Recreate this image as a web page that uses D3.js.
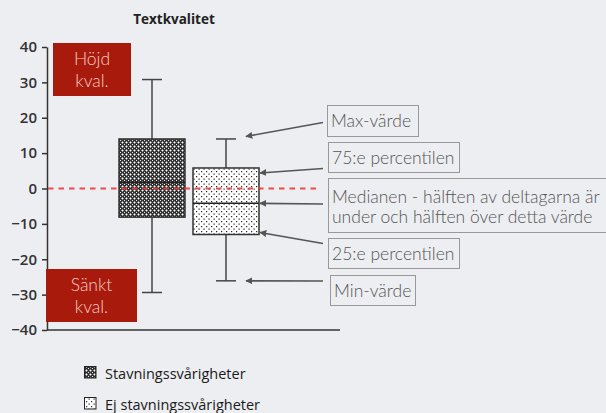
<!DOCTYPE html>
<html><head><meta charset="utf-8">
<script src="https://cdn.jsdelivr.net/npm/d3@7"></script>
<style>
html,body{margin:0;padding:0;background:#eceef1;}
svg{display:block;}
</style></head>
<body>
<svg id="c" width="606" height="413"></svg>
<script>
const groups = ["Stavningssvårigheter", "Ej stavningssvårigheter"];
const maxVals = [30.8, 14.0];
const q3Vals = [14.0, 5.8];
const medianVals = [1.8, -4.2];
const q1Vals = [-8.1, -13.0];
const minVals = [-29.4, -26.1];
const yTicks = [40, 30, 20, 10, 0, -10, -20, -30, -40];
const title = "Textkvalitet";
const annotations = ["Max-värde", "75:e percentilen", "Medianen - hälften av deltagarna är|under och hälften över detta värde", "25:e percentilen", "Min-värde"];

const svg = d3.select("#c");
const bg = "#eceef1";
svg.append("rect").attr("width",606).attr("height",413).attr("fill",bg);

const defs = svg.append("defs");
const pd = defs.append("pattern").attr("id","pDark").attr("patternUnits","userSpaceOnUse").attr("width",4).attr("height",4);
pd.append("rect").attr("width",4).attr("height",4).attr("fill","#333");
pd.append("rect").attr("x",0).attr("y",0).attr("width",1).attr("height",1).attr("fill","#f0f0f0");
pd.append("rect").attr("x",2).attr("y",2).attr("width",1).attr("height",1).attr("fill","#ffffff");
pd.append("rect").attr("x",1).attr("y",2).attr("width",1).attr("height",1).attr("fill","#999");
pd.append("rect").attr("x",3).attr("y",2).attr("width",1).attr("height",1).attr("fill","#999");
pd.append("rect").attr("x",2).attr("y",1).attr("width",1).attr("height",1).attr("fill","#999");
pd.append("rect").attr("x",2).attr("y",3).attr("width",1).attr("height",1).attr("fill","#999");
const pl = defs.append("pattern").attr("id","pLight").attr("patternUnits","userSpaceOnUse").attr("width",5).attr("height",5);
pl.append("rect").attr("width",5).attr("height",5).attr("fill","#ffffff");
pl.append("rect").attr("x",1).attr("y",1).attr("width",1.2).attr("height",1.2).attr("fill","#222");
pl.append("rect").attr("x",3.5).attr("y",3.5).attr("width",1.2).attr("height",1.2).attr("fill","#222");
defs.append("marker").attr("id","arr").attr("viewBox","0 0 10 10").attr("refX",9).attr("refY",5)
  .attr("markerWidth",7).attr("markerHeight",7).attr("markerUnits","userSpaceOnUse").attr("orient","auto")
  .append("path").attr("d","M0,0 L10,5 L0,10 z").attr("fill","#555");
const fills = ["url(#pDark)","url(#pLight)"];

const y = d3.scaleLinear().domain([-40,40]).range([330,47]);
const x = d3.scaleBand().domain(groups).range([119,259]).paddingInner(8/74).paddingOuter(0);
const xAxisLeft = 47;

// title
svg.append("text").attr("x",174).attr("y",24).attr("text-anchor","middle")
  .attr("font-family","Open Sans, sans-serif").attr("font-weight",700).attr("font-size",13.5)
  .attr("fill","#222").text(title);

// y axis
const yAxis = d3.axisLeft(y).tickValues(yTicks).tickSize(5).tickPadding(5).tickSizeOuter(0);
const ga = svg.append("g").attr("transform",`translate(${xAxisLeft},0)`).call(yAxis);
ga.select(".domain").attr("stroke","#333").attr("stroke-width",1.5);
ga.selectAll(".tick line").attr("stroke","#333").attr("stroke-width",1.5);
ga.selectAll(".tick text").attr("font-family","Open Sans, sans-serif").attr("font-weight",600)
  .attr("font-size",15).attr("fill","#333");
// bottom baseline
svg.append("line").attr("x1",xAxisLeft).attr("x2",340).attr("y1",y(-40)).attr("y2",y(-40))
  .attr("stroke","#333").attr("stroke-width",1.5);

// red boxes
function redBox(x0,y0,w,h,lines,b1){
  svg.append("rect").attr("x",x0).attr("y",y0).attr("width",w).attr("height",h).attr("fill","#a81b0c");
  lines.forEach((t,i)=>svg.append("text").attr("x",x0+w/2).attr("y",b1+i*22).attr("text-anchor","middle")
    .attr("font-family","Lato, sans-serif").attr("font-weight",300).attr("font-size",17.5)
    .attr("fill","#f4cdc4").text(t));
}
redBox(53,43,78,53,["Höjd","kval."],65);
redBox(46,269,91,53,["Sänkt","kval."],291);

// boxes
const g = svg.append("g");
groups.forEach((grp,i)=>{
  const cx = x(grp)+x.bandwidth()/2;
  const lc = "#444";
  g.append("line").attr("x1",cx).attr("x2",cx).attr("y1",y(maxVals[i])).attr("y2",y(q3Vals[i])).attr("stroke",lc).attr("stroke-width",1.5);
  g.append("line").attr("x1",cx).attr("x2",cx).attr("y1",y(q1Vals[i])).attr("y2",y(minVals[i])).attr("stroke",lc).attr("stroke-width",1.5);
  [maxVals[i],minVals[i]].forEach(v=>g.append("line").attr("x1",cx-10).attr("x2",cx+10).attr("y1",y(v)).attr("y2",y(v)).attr("stroke",lc).attr("stroke-width",1.5));
  g.append("rect").attr("x",x(grp)).attr("y",y(q3Vals[i])).attr("width",x.bandwidth()).attr("height",y(q1Vals[i])-y(q3Vals[i]))
    .attr("fill",fills[i]).attr("stroke","#333").attr("stroke-width",1.5);
  g.append("line").attr("x1",x(grp)).attr("x2",x(grp)+x.bandwidth()).attr("y1",y(medianVals[i])).attr("y2",y(medianVals[i]))
    .attr("stroke","#222").attr("stroke-width",1.5);
});

// zero line
svg.append("line").attr("x1",xAxisLeft+1).attr("x2",320).attr("y1",y(0)).attr("y2",y(0))
  .attr("stroke","#ee3b3b").attr("stroke-width",2.2).attr("stroke-dasharray","5.5,5").attr("opacity",0.9);

// annotations
const g2 = groups[1];
const cx2 = x(g2)+x.bandwidth()/2;
const right2 = x(g2)+x.bandwidth();
const annBoxes = [
  {x:327,y:105,w:91,h:31,b:[127],from:[323,122.5],to:[cx2+20,y(maxVals[1])-2.5]},
  {x:328,y:142,w:131,h:30,b:[164],from:[323,168.5],to:[right2+1,y(q3Vals[1])+5]},
  {x:328,y:178,w:280,h:54,b:[203,223],from:[323,204],to:[right2+1,y(medianVals[1])]},
  {x:328,y:238,w:131,h:30,b:[259.5],from:[323,243.5],to:[right2+1,y(q1Vals[1])-2]},
  {x:330,y:275,w:85,h:30,b:[297],from:[323,281],to:[cx2+20,y(minVals[1])]}
];
annBoxes.forEach((a,i)=>{
  svg.append("line").attr("x1",a.from[0]).attr("y1",a.from[1]).attr("x2",a.to[0]).attr("y2",a.to[1])
    .attr("stroke","#555").attr("stroke-width",1.6).attr("marker-end","url(#arr)");
  svg.append("rect").attr("x",a.x+0.5).attr("y",a.y+0.5).attr("width",a.w).attr("height",a.h)
    .attr("fill","none").attr("stroke","#999").attr("stroke-width",1);
  annotations[i].split("|").forEach((t,j)=>svg.append("text").attr("x",a.x+4).attr("y",a.b[j])
    .attr("font-family","Lato, sans-serif").attr("font-weight",300).attr("font-size",17.5)
    .attr("fill","#555").text(t));
});

// legend
groups.forEach((grp,i)=>{
  const ly = 366 + i*31;
  svg.append("rect").attr("x",84.5).attr("y",ly+0.5).attr("width",11.5).attr("height",11.5)
    .attr("fill",fills[i]).attr("stroke","#222").attr("stroke-width",1);
  svg.append("text").attr("x",105).attr("y",ly+12.5).attr("font-family","Open Sans, sans-serif")
    .attr("font-size",14.5).attr("fill","#1a1a1a").text(grp);
});
</script>
</body></html>
